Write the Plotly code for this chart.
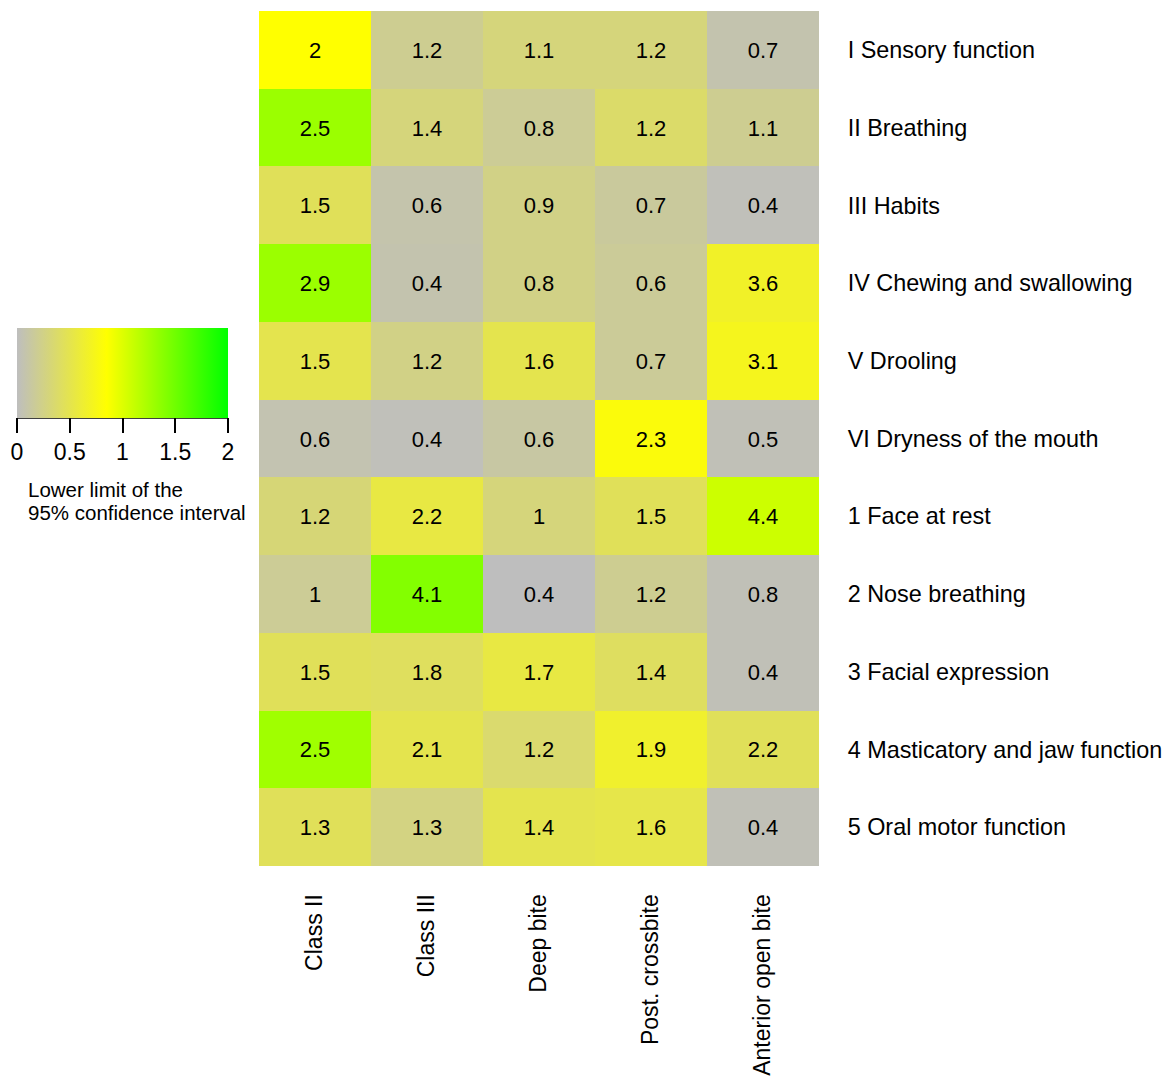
import plotly.graph_objects as go

W, H = 1169, 1079

columns = ["Class II", "Class III", "Deep bite", "Post. crossbite", "Anterior open bite"]
rows = ["I Sensory function", "II Breathing", "III Habits", "IV Chewing and swallowing",
        "V Drooling", "VI Dryness of the mouth", "1 Face at rest", "2 Nose breathing",
        "3 Facial expression", "4 Masticatory and jaw function", "5 Oral motor function"]

# Displayed values (odds ratios) per row
shown = [
    ["2", "1.2", "1.1", "1.2", "0.7"],
    ["2.5", "1.4", "0.8", "1.2", "1.1"],
    ["1.5", "0.6", "0.9", "0.7", "0.4"],
    ["2.9", "0.4", "0.8", "0.6", "3.6"],
    ["1.5", "1.2", "1.6", "0.7", "3.1"],
    ["0.6", "0.4", "0.6", "2.3", "0.5"],
    ["1.2", "2.2", "1", "1.5", "4.4"],
    ["1", "4.1", "0.4", "1.2", "0.8"],
    ["1.5", "1.8", "1.7", "1.4", "0.4"],
    ["2.5", "2.1", "1.2", "1.9", "2.2"],
    ["1.3", "1.3", "1.4", "1.6", "0.4"],
]

# Lower limit of the 95% CI (colour values)
lower = [
    [0.85, 0.20, 0.30, 0.30, 0.07],
    [1.30, 0.30, 0.18, 0.38, 0.20],
    [0.45, 0.08, 0.25, 0.15, 0.02],
    [1.30, 0.07, 0.25, 0.17, 0.67],
    [0.50, 0.25, 0.50, 0.17, 0.72],
    [0.06, 0.02, 0.12, 0.80, 0.03],
    [0.32, 0.55, 0.30, 0.45, 1.08],
    [0.18, 1.41, 0.00, 0.20, 0.03],
    [0.45, 0.43, 0.55, 0.42, 0.03],
    [1.28, 0.50, 0.36, 0.65, 0.45],
    [0.45, 0.27, 0.50, 0.52, 0.03],
]

cb_ticks = [0, 0.5, 1, 1.5, 2]
cb_ticktext = ["0", "0.5", "1", "1.5", "2"]
legend_title = ["Lower limit of the", "95% confidence interval"]

FONT = "Liberation Sans, Arial, sans-serif"

def px(x):
    return x / W

def py(y):
    return 1 - y / H

colorscale = [[0.0, "rgb(190,190,190)"], [0.425, "rgb(255,255,0)"], [1.0, "rgb(0,255,0)"]]

fig = go.Figure(go.Heatmap(
    z=lower, x=columns, y=rows, text=shown,
    texttemplate="%{text}",
    textfont=dict(family=FONT, size=22, color="black"),
    colorscale=colorscale, zmin=0, zmax=2,
    xgap=0, ygap=0,
    colorbar=dict(
        orientation="h",
        lenmode="pixels", len=211,
        thickness=90, thicknessmode="pixels",
        x=px(17), xanchor="left",
        y=py(328), yanchor="top",
        xpad=0, ypad=0,
        outlinewidth=0,
        tickvals=cb_ticks, ticktext=cb_ticktext,
        ticks="outside", ticklen=15, tickwidth=1.5, tickcolor="black",
        tickfont=dict(family=FONT, size=23, color="black"),
    ),
))

fig.update_layout(
    width=W, height=H,
    margin=dict(l=0, r=0, t=0, b=0),
    paper_bgcolor="white", plot_bgcolor="white",
    font=dict(family=FONT, color="black"),
    xaxis=dict(domain=[px(259), px(819)], side="bottom", tickangle=-90,
               ticks="outside", ticklen=18, tickcolor="rgba(0,0,0,0)",
               tickfont=dict(family=FONT, size=23, color="black"),
               showgrid=False, zeroline=False, showline=False),
    yaxis=dict(domain=[py(866), py(11)], side="right", autorange="reversed",
               ticks="outside", ticklen=23, tickcolor="rgba(0,0,0,0)",
               tickfont=dict(family=FONT, size=23.4, color="black"),
               showgrid=False, zeroline=False, showline=False),
    shapes=[dict(type="line", xref="paper", yref="paper",
                 x0=px(17), x1=px(228), y0=py(418), y1=py(418),
                 line=dict(color="black", width=1.5))],
    annotations=[
        dict(text=legend_title[0], xref="paper", yref="paper", x=px(26), y=py(489),
             xanchor="left", yanchor="middle", showarrow=False,
             font=dict(family=FONT, size=20.5, color="black")),
        dict(text=legend_title[1], xref="paper", yref="paper", x=px(26), y=py(512),
             xanchor="left", yanchor="middle", showarrow=False,
             font=dict(family=FONT, size=20.5, color="black")),
    ],
)

fig.write_html("out.html", config={"displayModeBar": False},
               post_script="document.body.style.margin='0px';")
